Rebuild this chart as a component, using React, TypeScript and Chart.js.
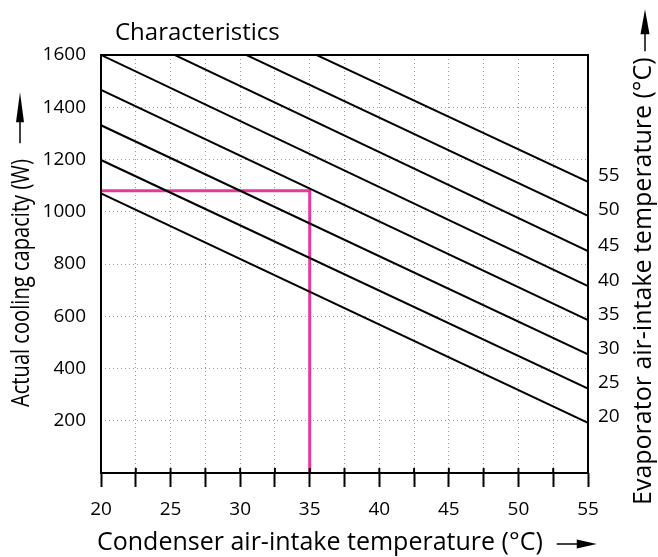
import { useEffect, useRef } from 'react';
import { Chart, registerables } from 'chart.js';

Chart.register(...registerables);

// ---- data ----
const condenserTemps = [20, 55]; // °C, ends of each characteristic line
const evaporatorTemps = [20, 25, 30, 35, 40, 45, 50, 55]; // °C
const capacityAtCondenser20 = [1070, 1198, 1331, 1466, 1600, 1734, 1862, 1986]; // W
const capacityAtCondenser55 = [192, 323, 454, 585, 715, 849, 984, 1114]; // W
const operatingCondenserTemp = 35; // °C
const operatingCapacity = 1080; // W
const xMin = 20;
const xMax = 55;
const xStep = 2.5;
const yMin = 0;
const yMax = 1600;
const yStep = 200;

const chartTitle = 'Characteristics';
const xTitle = 'Condenser air-intake temperature (°C)';
const yTitle = 'Actual cooling capacity (W)';
const y2Title = 'Evaporator air-intake temperature (°C)';

const FONT = '"Open Sans", "DejaVu Sans", sans-serif';

function drawArrow(ctx: CanvasRenderingContext2D, start: number, cy: number, shaft: number, head: number, half: number) {
  ctx.beginPath();
  ctx.moveTo(start, cy);
  ctx.lineTo(start + shaft + 2, cy);
  ctx.lineWidth = 1.5;
  ctx.strokeStyle = '#000';
  ctx.stroke();
  ctx.beginPath();
  ctx.moveTo(start + shaft, cy - half);
  ctx.lineTo(start + shaft + head, cy);
  ctx.lineTo(start + shaft, cy + half);
  ctx.closePath();
  ctx.fillStyle = '#000';
  ctx.fill();
}

const decorPlugin = {
  id: 'decor',
  afterDraw(chart: any) {
    const { ctx, chartArea } = chart;
    const { left, right, top, bottom } = chartArea;
    ctx.save();
    // frame
    ctx.strokeStyle = '#000';
    ctx.lineWidth = 2;
    ctx.strokeRect(left, top, right - left, bottom - top);
    // upper part of x tick marks crossing the axis
    const xs = chart.scales.x;
    ctx.lineWidth = 2;
    xs.ticks.forEach((t: any) => {
      const px = xs.getPixelForValue(t.value);
      ctx.beginPath();
      ctx.moveTo(px, bottom - 5);
      ctx.lineTo(px, bottom);
      ctx.stroke();
    });
    // chart title
    ctx.fillStyle = '#000';
    ctx.textBaseline = 'alphabetic';
    ctx.textAlign = 'left';
    ctx.font = `24px ${FONT}`;
    ctx.fillText(chartTitle, left + 14, top - 15);

    // x title
    ctx.font = `25px ${FONT}`;
    const xw = ctx.measureText(xTitle).width;
    const xTx = left - 4;
    const xTy = 550;
    ctx.fillText(xTitle, xTx, xTy);
    drawArrow(ctx, xTx + xw + 14, xTy - 6, 20, 20, 4.5);

    // left y title (condensed lettering, as in the reference)
    ctx.save();
    ctx.font = `25px ${FONT}`;
    const squeeze = 0.805;
    const yw = ctx.measureText(yTitle).width * squeeze;
    ctx.translate(29, bottom - 66);
    ctx.rotate(-Math.PI / 2);
    ctx.save();
    ctx.scale(squeeze, 1);
    ctx.fillText(yTitle, 0, 0);
    ctx.restore();
    drawArrow(ctx, yw + 16, -9, 21, 30, 4);
    ctx.restore();

    // right y title
    ctx.save();
    ctx.font = `25px ${FONT}`;
    const y2w = ctx.measureText(y2Title).width;
    ctx.translate(651, bottom + 32);
    ctx.rotate(-Math.PI / 2);
    ctx.fillText(y2Title, 0, 0);
    drawArrow(ctx, y2w + 6, -6, 17, 25, 4.5);
    ctx.restore();

    ctx.restore();
  },
};

export default function App() {
  const ref = useRef<HTMLCanvasElement | null>(null);

  useEffect(() => {
    if (!ref.current) return;
    const lineSets = evaporatorTemps.map((t, i) => ({
      label: `${t} °C`,
      data: [
        { x: condenserTemps[0], y: capacityAtCondenser20[i] },
        { x: condenserTemps[1], y: capacityAtCondenser55[i] },
      ],
      borderColor: '#000',
      borderWidth: 2,
      pointRadius: 0,
      showLine: true,
      yAxisID: 'y',
    }));
    const opSet = {
      label: 'operating point',
      data: [
        { x: xMin, y: operatingCapacity },
        { x: operatingCondenserTemp, y: operatingCapacity },
        { x: operatingCondenserTemp, y: yMin },
      ],
      borderColor: '#e8379b',
      borderWidth: 3,
      pointRadius: 0,
      showLine: true,
      yAxisID: 'y',
    };
    const tickFont = { family: FONT, size: 19 };
    const chart = new Chart(ref.current, {
      type: 'scatter',
      data: { datasets: [...lineSets, opSet] as any },
      options: {
        animation: false,
        responsive: false,
        layout: { padding: { top: 55, left: 0, right: 0, bottom: 0 } },
        plugins: { legend: { display: false }, tooltip: { enabled: false }, title: { display: false } },
        scales: {
          x: {
            type: 'linear',
            min: xMin,
            max: xMax,
            afterFit: (s: any) => { s.height = 84; },
            ticks: {
              stepSize: xStep,
              color: '#000',
              font: tickFont,
              padding: 11,
              maxRotation: 0,
              autoSkip: false,
              callback: (v: any) => (Number(v) % 5 === 0 ? String(v) : ''),
            },
            grid: {
              color: '#9a9a9a',
              lineWidth: 1,
              drawTicks: true,
              tickLength: 14,
              tickColor: '#000',
              tickWidth: 2,
            },
            border: { display: false, dash: [1, 3] },
          },
          y: {
            type: 'linear',
            position: 'left',
            min: yMin,
            max: yMax,
            afterFit: (s: any) => { s.width = 101; },
            ticks: {
              stepSize: yStep,
              color: '#000',
              font: tickFont,
              padding: 15,
              callback: (v: any) => (Number(v) === 0 ? '' : String(v)),
            },
            grid: { color: '#9a9a9a', lineWidth: 1, drawTicks: false },
            border: { display: false, dash: [1, 3] },
          },
          y2: {
            type: 'linear',
            position: 'right',
            min: yMin,
            max: yMax,
            afterFit: (s: any) => { s.width = 70; },
            afterBuildTicks: (s: any) => {
              s.ticks = capacityAtCondenser55.map((v) => ({ value: v }));
            },
            ticks: {
              color: '#000',
              font: tickFont,
              padding: 10,
              labelOffset: -6,
              autoSkip: false,
              callback: (_v: any, i: number) => String(evaporatorTemps[i]),
            },
            grid: { display: false, drawTicks: false },
            border: { display: false },
          },
        },
      },
      plugins: [decorPlugin],
    } as any);
    return () => chart.destroy();
  }, []);

  return (
    <div style={{ position: 'fixed', left: 0, top: 0, width: 658, height: 557, background: '#fff' }}>
      <canvas ref={ref} width={658} height={557} />
    </div>
  );
}
